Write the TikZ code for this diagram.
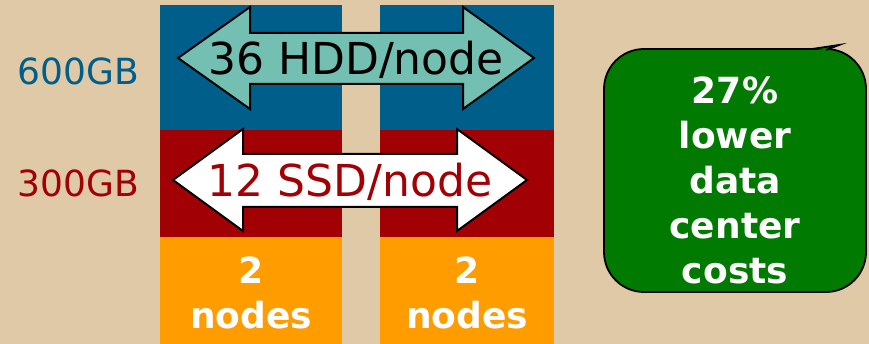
\documentclass[tikz,border=0pt]{standalone}
\usepackage{fontspec}
\setmainfont{DejaVu Sans}
\usetikzlibrary{positioning}
\definecolor{sand}{HTML}{E0C9A7}
\definecolor{diskblue}{HTML}{005F8A}
\definecolor{diskred}{HTML}{A10005}
\definecolor{nodeorange}{HTML}{FF9C00}
\definecolor{arrowteal}{HTML}{73BFB1}
\definecolor{costgreen}{HTML}{007A00}

\begin{document}
\begin{tikzpicture}
  [
    x=1pt, y=-1pt,
    arrowtext/.style={font=\fontsize{44}{48}\selectfont, inner sep=0pt, anchor=base},
    sizelabel/.style={font=\fontsize{36}{40}\selectfont, inner sep=0pt, anchor=base},
    boldlabel/.style={font=\fontsize{36}{45}\selectfont\bfseries, text=white, align=center, inner sep=0pt},
    fatarrow/.style={draw=black, line width=2pt, line join=miter}
  ]

  \fill[sand] (0,0) rectangle (869,344);
  \useasboundingbox (0,0) rectangle (869,344);

  \foreach \left/\right in {160/342, 380/554}
  {
    \fill[diskblue] (\left,5) rectangle (\right,130);
    \fill[diskred] (\left,130) rectangle (\right,237);
    \fill[nodeorange] (\left,237) rectangle (\right,344);
  }

  \node[sizelabel, text=diskblue] (hddsize) at (78.5,85) {600GB};
  \node[sizelabel, text=diskred] (ssdsize) at (78.5,197) {300GB};

  \draw[fatarrow, fill=arrowteal]
    (178,58) -- (250,7) -- (250,33) -- (463,33) -- (463,7) -- (534,58)
    -- (463,109) -- (463,84) -- (250,84) -- (250,109) -- cycle;
  \node[arrowtext] (hddcount) at (356,75) {36 HDD/node};

  \draw[fatarrow, fill=white]
    (173,180) -- (243,129) -- (243,154) -- (457,154) -- (457,129) -- (527,180)
    -- (457,231) -- (457,207) -- (243,207) -- (243,231) -- cycle;
  \node[arrowtext, text=diskred] (ssdcount) at (350,197) {12 SSD/node};

  \node[boldlabel] (leftnodes) at (251,293) {2\\nodes};
  \node[boldlabel] (rightnodes) at (467,293) {2\\nodes};

  \node[draw=black, line width=1.8pt, fill=costgreen, rounded corners=40pt,
        minimum width=262pt, minimum height=243pt] (savings) at (735,170.5) {};
  \draw[line width=1.8pt, fill=costgreen, line join=miter]
    (812,49) -- (839,45) -- (826,50);
  \node[boldlabel] (savingstext) at (735,180.5) {27\%\\lower\\data\\center\\costs};
\end{tikzpicture}
\end{document}
